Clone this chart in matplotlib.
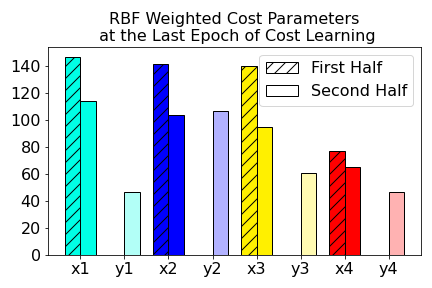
import matplotlib
matplotlib.use("Agg")
import matplotlib.pyplot as plt
import numpy as np

categories = ["x1", "y1", "x2", "y2", "x3", "y3", "x4", "y4"]
first_half = [147, 0, 142, 0, 140, 0, 77, 0]
second_half = [114, 47, 104, 107, 95, 61, 65, 47]
base_colors = ["#00FFE6", "#00FFE6", "#0000FF", "#0000FF",
               "#FFF000", "#FFF000", "#FF0000", "#FF0000"]
alphas = [1.0, 0.3, 1.0, 0.3, 1.0, 0.3, 1.0, 0.3]

plt.rcParams.update({"font.size": 16})

fig, ax = plt.subplots(figsize=(6, 4), dpi=72)
x = np.arange(len(categories))
width = 0.35

for i in range(len(categories)):
    rgba = matplotlib.colors.to_rgba(base_colors[i], alphas[i])
    ax.bar(x[i] - width, first_half[i], width, align="edge", color=rgba,
           edgecolor="black", hatch="//")
    ax.bar(x[i], second_half[i], width, align="edge", color=rgba,
           edgecolor="black")

ax.bar(0, 0, 0, color="white", edgecolor="black", hatch="//", label="First Half")
ax.bar(0, 0, 0, color="white", edgecolor="black", label="Second Half")

ax.set_xticks(x)
ax.set_xticklabels(categories)
ax.set_yticks(np.arange(0, 141, 20))
ax.set_title("RBF Weighted Cost Parameters\n at the Last Epoch of Cost Learning", fontsize=16)
ax.legend(loc="upper right")

fig.subplots_adjust(left=0.111, right=0.975, top=0.837, bottom=0.115)
fig.savefig("out.png")
